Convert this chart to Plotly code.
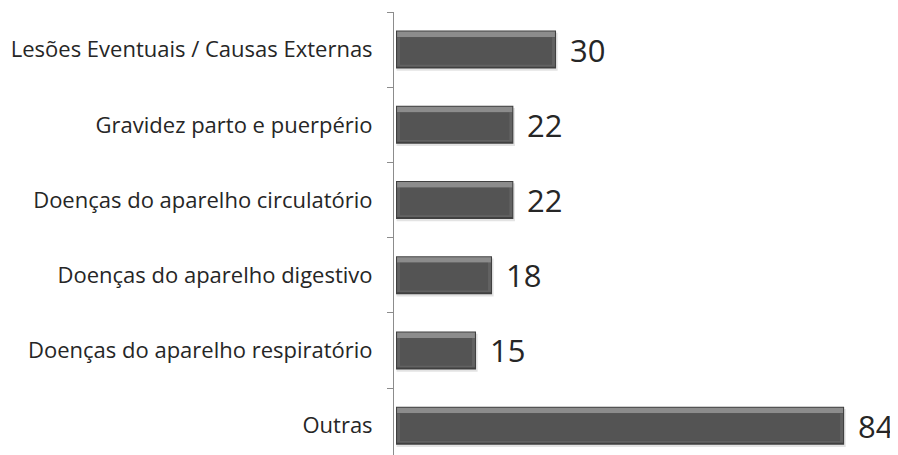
import plotly.graph_objects as go

categories = [
    "Lesões Eventuais / Causas Externas",
    "Gravidez parto e puerpério",
    "Doenças do aparelho circulatório",
    "Doenças do aparelho digestivo",
    "Doenças do aparelho respiratório",
    "Outras",
]
values = [30, 22, 22, 18, 15, 84]

FONT = "Open Sans"
TEXT_COLOR = "#262626"
W = 0.505          # bar thickness (category units)
HL = 0.075         # top highlight band
BOT = 0.05         # bottom dark band
SIDE = 0.75        # side bevel (x units)

fig = go.Figure()

def layer(xs, base, offset, width, color):
    fig.add_trace(go.Bar(
        y=categories, x=xs, base=base, orientation="h",
        width=width, offset=offset,
        marker=dict(color=color, line=dict(width=0)),
        hoverinfo="skip", showlegend=False,
    ))

n = len(values)
# soft shadow
layer([v + 0.2 for v in values], [0.1] * n, -W / 2 + 0.03, W, "rgba(0,0,0,0.11)")
# dark outline
layer(values, [0] * n, -W / 2, W, "#404040")
# top highlight band
layer([v - 0.4 for v in values], [0.2] * n, -W / 2 + 0.013, HL, "#8c8c8c")
# side bevels
layer([v - 0.4 for v in values], [0.2] * n, -W / 2 + 0.013 + HL, W - 0.013 - HL - 0.026, "#626262")
# body
layer([v - 2 * SIDE for v in values], [SIDE] * n, -W / 2 + 0.013 + HL, W - 0.013 - HL - BOT, "#545454")

for c, v in zip(categories, values):
    fig.add_annotation(
        x=v, y=c, text=str(v), showarrow=False,
        xanchor="left", xshift=12, yshift=0,
        font=dict(family=FONT, size=31, color=TEXT_COLOR),
    )

fig.update_layout(
    width=890, height=447,
    margin=dict(l=386, r=0, t=4, b=0),
    paper_bgcolor="white", plot_bgcolor="white",
    barmode="overlay",
    showlegend=False,
    font=dict(family=FONT, color=TEXT_COLOR),
)
fig.update_xaxes(
    range=[-0.375, 94.1], visible=False, showgrid=False, zeroline=False,
)
fig.update_yaxes(
    type="category", categoryorder="array", categoryarray=categories,
    range=[5.39, -0.5],
    showline=True, linecolor="#8c8c8c", linewidth=1,
    ticks="outside", tickson="boundaries", ticklen=6, tickcolor="#8c8c8c",
    ticklabelstandoff=16,
    tickfont=dict(family=FONT, size=22, color=TEXT_COLOR),
    showgrid=False, zeroline=False,
)

fig.write_html("out.html")
